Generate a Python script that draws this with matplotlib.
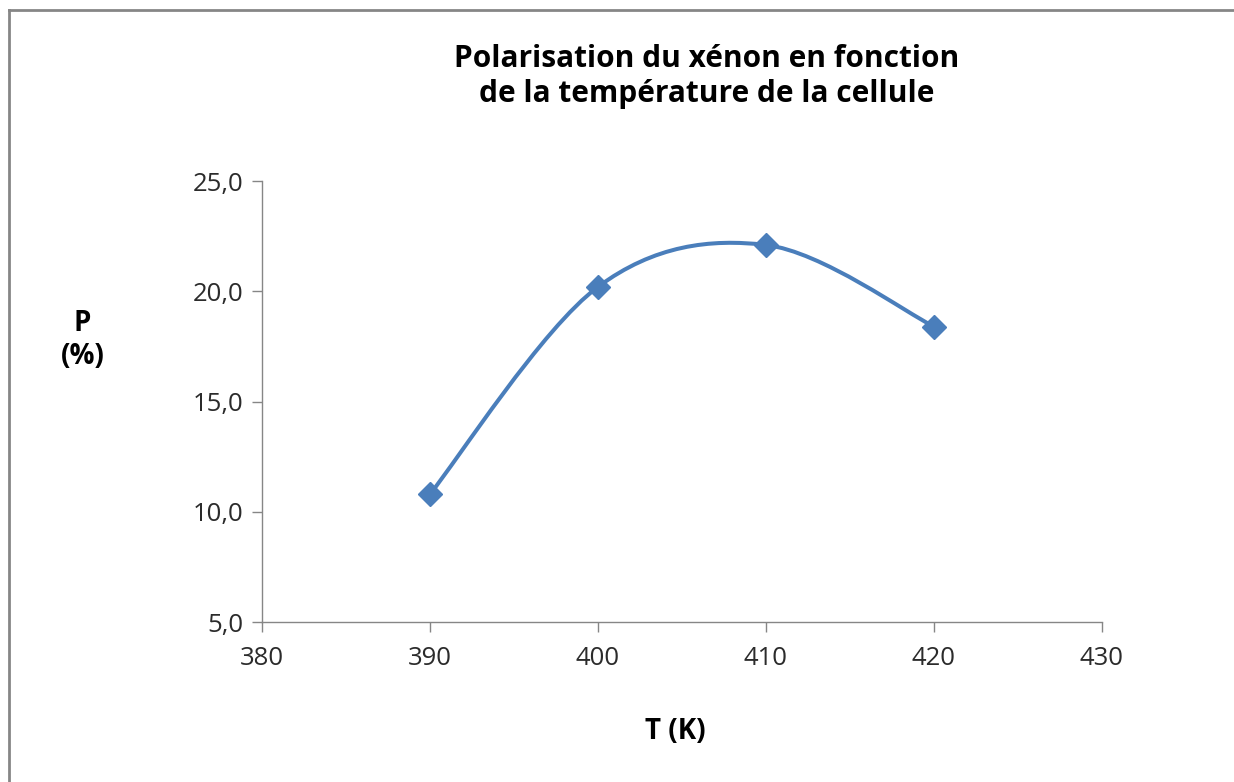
import matplotlib
matplotlib.use('Agg')
import numpy as np
import matplotlib.pyplot as plt
from matplotlib.path import Path
from matplotlib.patches import PathPatch
from matplotlib.ticker import FuncFormatter, MultipleLocator

# data
temperature = [390, 400, 410, 420]
polarisation = [10.8, 20.2, 22.1, 18.4]

title = 'Polarisation du xénon en fonction\nde la température de la cellule'
x_label = 'T (K)'
y_label = 'P\n(%)'

line_color = '#4A7EBB'
axis_color = '#868686'
plt.rcParams['font.family'] = ['Open Sans', 'DejaVu Sans']


def smooth_path(xs, ys):
    # Excel-like smoothed line: cubic bezier with catmull-rom control points
    pts = np.column_stack([xs, ys]).astype(float)
    n = len(pts)
    verts = [pts[0]]
    codes = [Path.MOVETO]
    for i in range(n - 1):
        p_prev = pts[i - 1] if i > 0 else pts[i]
        p_next = pts[i + 2] if i + 2 < n else pts[i + 1]
        c1 = pts[i] + (pts[i + 1] - p_prev) / 6.0
        c2 = pts[i + 1] - (p_next - pts[i]) / 6.0
        verts += [c1, c2, pts[i + 1]]
        codes += [Path.CURVE4] * 3
    return Path(verts, codes)


fig = plt.figure(figsize=(12.34, 7.82), dpi=100)
ax = fig.add_axes([0.2123, 0.2046, 0.893 - 0.2123, 0.7685 - 0.2046])

patch = PathPatch(smooth_path(temperature, polarisation), facecolor='none',
                  edgecolor=line_color, lw=2.9, capstyle='round', zorder=2)
ax.add_patch(patch)
ax.plot(temperature, polarisation, linestyle='none', marker='D',
        markersize=12.5, color=line_color, zorder=3)

ax.set_xlim(380, 430)
ax.set_ylim(5, 25)
ax.xaxis.set_major_locator(MultipleLocator(10))
ax.yaxis.set_major_locator(MultipleLocator(5))
ax.yaxis.set_major_formatter(FuncFormatter(lambda v, p: f'{v:.1f}'.replace('.', ',')))

for side in ['top', 'right']:
    ax.spines[side].set_visible(False)
for side in ['left', 'bottom']:
    ax.spines[side].set_color(axis_color)
    ax.spines[side].set_linewidth(1.0)
ax.tick_params(axis='both', colors=axis_color, length=7, width=1.0,
               labelsize=18.5, labelcolor='#2b2b2b')
ax.tick_params(axis='x', pad=10)
ax.tick_params(axis='y', pad=6)

fig.text(0.573, 0.902, title, ha='center', va='center', fontsize=21.5,
         fontweight='bold', linespacing=1.22)
fig.text(0.067, 0.565, y_label, ha='center', va='center', fontsize=20,
         fontweight='bold', linespacing=1.2)
fig.text(0.547, 0.064, x_label, ha='center', va='center', fontsize=20,
         fontweight='bold')

# chart-area border (only top and left edges are visible in the crop)
fig.add_artist(plt.Line2D([9 / 1234, 9 / 1234], [0, 1 - 10 / 782],
                          color=axis_color, lw=2.0, transform=fig.transFigure))
fig.add_artist(plt.Line2D([9 / 1234, 1], [1 - 10 / 782, 1 - 10 / 782],
                          color=axis_color, lw=2.0, transform=fig.transFigure))

fig.savefig('out.png', dpi=100)
